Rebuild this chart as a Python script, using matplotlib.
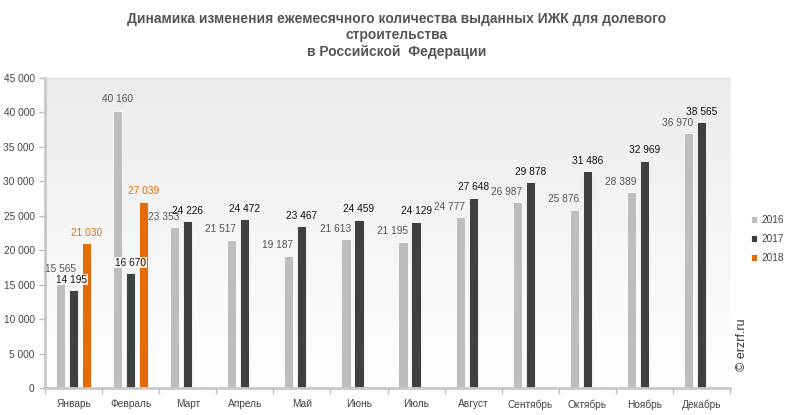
import matplotlib
matplotlib.use("Agg")
import matplotlib.pyplot as plt
import numpy as np
from matplotlib.ticker import FuncFormatter, FixedLocator
from matplotlib.colors import LinearSegmentedColormap

months = ["Январь", "Февраль", "Март", "Апрель", "Май", "Июнь", "Июль",
          "Август", "Сентябрь", "Октябрь", "Ноябрь", "Декабрь"]
v2016 = [15565, 40160, 23353, 21517, 19187, 21613, 21195, 24777, 26987, 25876, 28389, 36970]
v2017 = [14195, 16670, 24226, 24472, 23467, 24459, 24129, 27648, 29878, 31486, 32969, 38565]
v2018 = [21030, 27039]
series_names = ["2016", "2017", "2018"]
colors = ["#BDBDBD", "#404040", "#E46C0A"]
label_colors = ["#555555", "#111111", "#E46C0A"]

plt.rcParams['font.family'] = ['Liberation Sans', 'DejaVu Sans']

fig = plt.figure(figsize=(7.93, 4.15), dpi=100)
ax = fig.add_axes([45/793, 1-388/415, (730-45)/793, (388-78)/415])

# gradient background
grad = np.linspace(1, 0, 256).reshape(-1, 1)
cmap = LinearSegmentedColormap.from_list("g", ["#EBEBEB", "#FFFFFF"])
ax.imshow(grad, extent=[0, 1, 0, 1], transform=ax.transAxes, cmap=cmap,
          aspect='auto', zorder=0, origin='lower')

x = np.arange(len(months))
off = 0.228
w = 0.16
data = [v2016, v2017, v2018]
for i, (vals, c) in enumerate(zip(data, colors)):
    xs = x[:len(vals)] + (i - 1) * off
    ax.bar(xs, vals, width=w, color=c, zorder=2, label=series_names[i],
           edgecolor='white', linewidth=0.6)
    for xi, v, mi in zip(xs, vals, range(len(vals))):
        txt = f"{v:,}".replace(",", " ")
        bbox = None
        if i == 0:
            if mi in (0, 1):
                ha, dx, dy = 'center', 0, 5
            else:
                ha, dx, dy = 'right', 3.4, 4
        elif i == 1:
            ha, dx, dy = 'center', 0, 4
            if mi in (0, 1):
                bbox = dict(boxstyle='square,pad=0.08', fc='white', ec='none', alpha=0.85)
                if mi == 0:
                    dx = -1.5
        else:
            ha, dx, dy = 'center', 0, 4
        ax.annotate(txt, (xi, v), xytext=(dx, dy), textcoords='offset points',
                    ha=ha, va='bottom', fontsize=7.3, color=label_colors[i], zorder=3,
                    bbox=bbox)

ax.set_xlim(-0.5, len(months) - 0.5)
ax.set_ylim(0, 45000)
ax.set_yticks(np.arange(0, 45001, 5000))
ax.yaxis.set_major_formatter(FuncFormatter(lambda v, p: f"{int(v):,}".replace(",", " ")))
ax.set_xticks(x)
ax.set_xticklabels(months)
ax.xaxis.set_minor_locator(FixedLocator(np.arange(-0.5, len(months), 1)))
ax.tick_params(axis='x', which='major', length=0, labelsize=7.3, colors='#444444', pad=8)
ax.tick_params(axis='x', which='minor', length=4, color='#BBBBBB', width=1, direction='out')
ax.tick_params(axis='y', length=4, color='#BBBBBB', labelsize=7.3, labelcolor='#444444', width=1)
ax.spines['right'].set_visible(False)
ax.spines['top'].set_color('#DDDDDD')
ax.spines['left'].set_color('#C8C8C8')
ax.spines['left'].set_linewidth(2)
ax.spines['bottom'].set_color('#C8C8C8')
ax.spines['bottom'].set_linewidth(2)

fig.suptitle("Динамика изменения ежемесячного количества выданных ИЖК для долевого\nстроительства\nв Российской  Федерации",
             x=0.5, y=0.972, fontsize=10, fontweight='bold', color='#555555',
             linespacing=1.25)

leg = fig.legend(loc='center left', bbox_to_anchor=(742/793, 1-239/415), frameon=False,
                 fontsize=7.3, handlelength=0.6, handleheight=0.6, handletextpad=0.4,
                 labelspacing=0.9, labelcolor='#444444')

fig.text(742/793, 1-345/415, "© erzrf.ru", rotation=90, fontsize=9, color='#333333',
         ha='center', va='center')

fig.savefig("out.png", dpi=100)
